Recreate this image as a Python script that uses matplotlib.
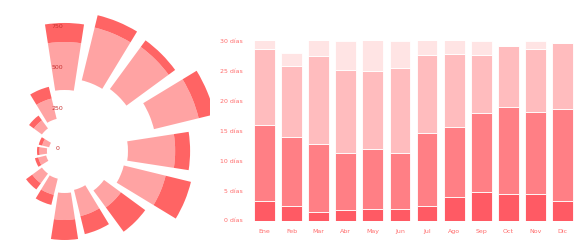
import numpy as np
from matplotlib import pyplot as plt
from matplotlib.transforms import Bbox, TransformedBbox

# radial chart: 16 sectors, each a hidden base + light part + dark part
sector_inner = [375, 447, 472, 566, 390, 375, 301, 246, 258, 175, 172, 116, 108, 97, 172, 203]
sector_mid = [670, 781, 793, 849, 680, 640, 430, 412, 424, 277, 246, 166, 154, 141, 234, 332]
sector_outer = [787, 859, 843, 950, 772, 800, 615, 526, 547, 341, 293, 187, 169, 163, 270, 406]
radial_ticks = [0, 250, 500, 750]

# stacked monthly bars (days)
months = ["Ene", "Feb", "Mar", "Abr", "May", "Jun", "Jul", "Ago", "Sep", "Oct", "Nov", "Dic"]
days_a = [3.3, 2.5, 1.5, 1.8, 1.9, 2.0, 2.4, 4.0, 4.7, 4.4, 4.4, 3.3]
days_b = [16.0, 13.9, 12.8, 11.3, 12.0, 11.3, 14.7, 15.6, 18.0, 19.0, 18.2, 18.6]
days_c = [28.7, 25.9, 27.5, 25.2, 25.0, 25.5, 27.6, 27.8, 27.7, 29.2, 28.7, 29.6]
days_total = [31, 28, 31, 30, 31, 30, 31, 31, 30, 29.2, 30, 29.6]
day_ticks = [0, 5, 10, 15, 20, 25, 30]

LABEL = "#ff6b6b"
W, H = 588, 248

fig = plt.figure(figsize=(W / 100, H / 100), dpi=100, facecolor="white")

# ---- polar part ----
cx, cy = 64.5, 151.0          # centre in pixels (from top-left)
px_per_unit = 0.1627
rmax = 1000
rad_px = rmax * px_per_unit
pax = fig.add_axes([(cx - rad_px) / W, (H - cy - rad_px) / H, 2 * rad_px / W, 2 * rad_px / H],
                   projection="polar")
pax.set_theta_zero_location("N")
pax.set_theta_direction(-1)
pax.set_ylim(0, rmax)
pax.set_facecolor("none")
pax.grid(False)
pax.spines["polar"].set_visible(False)
pax.set_xticks([])
pax.set_yticks([])

n = len(sector_inner)
theta = np.deg2rad(np.arange(n) * 360.0 / n)
width = np.deg2rad(360.0 / n * 0.78)
inner = np.array(sector_inner)
mid = np.array(sector_mid)
outer = np.array(sector_outer)

clip = TransformedBbox(Bbox.from_extents(0, 0, 210 / W, 1), fig.transFigure)
light = pax.bar(theta, mid - inner, width=width, bottom=inner, color="#ffa3a3", linewidth=0)
dark = pax.bar(theta, outer - mid, width=width, bottom=mid, color="#ff6464", linewidth=0)
for b in list(light) + list(dark):
    b.set_clip_box(clip)

for v in radial_ticks:
    pax.annotate(str(v), (0, v), xytext=(-5, 1.5), textcoords="offset points",
                 ha="center", va="center", fontsize=4.5, color="#c83232", zorder=5)

# ---- stacked bar part ----
bax = fig.add_axes([251 / W, 27.5 / H, 325 / W, 179.5 / H])
x = np.arange(len(months))
a = np.array(days_a)
b_ = np.array(days_b)
c = np.array(days_c)
t = np.array(days_total)
kw = dict(width=0.77, edgecolor="white", linewidth=0.6)
bax.bar(x, a, color="#ff5a64", **kw)
bax.bar(x, b_ - a, bottom=a, color="#ff7f85", **kw)
bax.bar(x, c - b_, bottom=b_, color="#ffbcbe", **kw)
bax.bar(x, t - c, bottom=c, color="#ffe4e4", **kw)

bax.set_xlim(-0.5, len(months) - 0.5)
bax.set_ylim(0, 30)
bax.set_yticks(day_ticks)
bax.set_yticklabels([f"{d} días" for d in day_ticks])
bax.set_xticks(x)
bax.set_xticklabels(months)
bax.tick_params(length=0, labelsize=4.5, labelcolor=LABEL, pad=6)
for s in bax.spines.values():
    s.set_visible(False)

fig.savefig("out.png", dpi=100, facecolor="white")
